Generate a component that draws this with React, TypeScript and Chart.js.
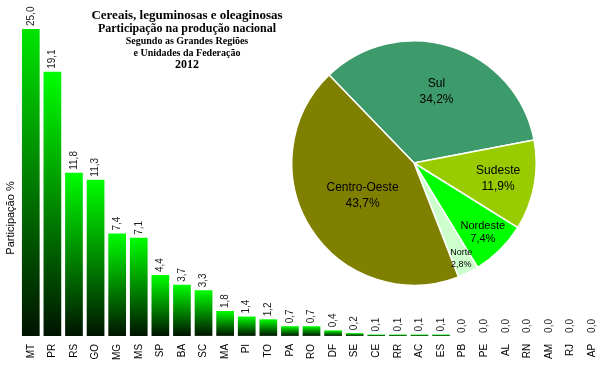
import React, { useEffect, useRef } from "react";
import { Chart, registerables } from "chart.js";

Chart.register(...registerables);

const categories = ["MT", "PR", "RS", "GO", "MG", "MS", "SP", "BA", "SC", "MA", "PI", "TO", "PA", "RO", "DF", "SE", "CE", "RR", "AC", "ES", "PB", "PE", "AL", "RN", "AM", "RJ", "AP"];
const shares = [25.0, 19.1, 11.8, 11.3, 7.4, 7.1, 4.4, 3.7, 3.3, 1.8, 1.4, 1.2, 0.7, 0.7, 0.4, 0.2, 0.1, 0.1, 0.1, 0.1, 0.0, 0.0, 0.0, 0.0, 0.0, 0.0, 0.0];
const regions = ["Sul", "Sudeste", "Nordeste", "Norte", "Centro-Oeste"];
const regionShares = [34.2, 11.9, 7.4, 2.8, 43.7];
const titleLines = [
  "Cereais, leguminosas e oleaginosas",
  "Participação na produção nacional",
  "Segundo as Grandes Regiões",
  "e Unidades da Federação",
  "2012",
];
const yTitle = "Participação %";

const regionColors = ["#3d9a6b", "#99cc00", "#00ff00", "#ccffcc", "#808000"];
const SANS = "'Liberation Sans', Arial, sans-serif";
const SERIF = "'Liberation Serif', 'Times New Roman', serif";

const fmt = (v: number) => v.toFixed(1).replace(".", ",");

export default function App() {
  const barRef = useRef<HTMLCanvasElement>(null);
  const pieRef = useRef<HTMLCanvasElement>(null);

  useEffect(() => {
    const barLabels = {
      id: "barLabels",
      afterDatasetsDraw(chart: any) {
        const ctx = chart.ctx;
        const meta = chart.getDatasetMeta(0);
        const area = chart.chartArea;
        ctx.save();
        ctx.fillStyle = "#222";
        ctx.font = `10px ${SANS}`;
        meta.data.forEach((bar: any, i: number) => {
          const top = Math.max(bar.y, area.top);
          ctx.save();
          ctx.translate(bar.x, top - 3);
          ctx.rotate(-Math.PI / 2);
          ctx.textAlign = "left";
          ctx.textBaseline = "middle";
          ctx.fillText(fmt(shares[i]), 0, 0);
          ctx.restore();
        });
        ctx.restore();
      },
      afterDraw(chart: any) {
        const ctx = chart.ctx;
        ctx.save();
        ctx.fillStyle = "#000";
        ctx.font = `11px ${SANS}`;
        ctx.translate(11, 218);
        ctx.rotate(-Math.PI / 2);
        ctx.textAlign = "center";
        ctx.textBaseline = "middle";
        ctx.fillText(yTitle, 0, 0);
        ctx.restore();
        ctx.save();
        ctx.fillStyle = "#000";
        ctx.textAlign = "center";
        ctx.textBaseline = "alphabetic";
        const specs = [
          { size: 13, y: 19 },
          { size: 12, y: 32 },
          { size: 10, y: 44 },
          { size: 10, y: 56 },
          { size: 12, y: 68 },
        ];
        titleLines.forEach((t, i) => {
          ctx.font = `bold ${specs[i].size}px ${SERIF}`;
          ctx.fillText(t, 187, specs[i].y);
        });
        ctx.restore();
      },
    };

    const bar = new Chart(barRef.current!, {
      type: "bar",
      data: {
        labels: categories,
        datasets: [
          {
            data: shares,
            backgroundColor: (c: any) => {
              const chart = c.chart;
              const ys = chart.scales && chart.scales.y;
              if (c.type !== "data" || !ys) return "#00ff00";
              const top = ys.getPixelForValue(c.raw);
              const base = ys.getPixelForValue(0);
              if (!isFinite(top) || !isFinite(base) || base - top < 1) return "#00ff00";
              const g = chart.ctx.createLinearGradient(0, base, 0, top);
              g.addColorStop(0, "#001400");
              g.addColorStop(1, "#00ff00");
              return g;
            },
            borderWidth: 0,
            barPercentage: 0.82,
            categoryPercentage: 1,
          },
        ],
      },
      options: {
        responsive: false,
        animation: false,
        events: [],
        layout: { padding: { top: 29, left: 20, right: 1, bottom: 13 } },
        plugins: { legend: { display: false }, tooltip: { enabled: false }, title: { display: false } },
        scales: {
          x: {
            grid: { display: false, drawTicks: false },
            border: { display: false },
            afterFit: (scale: any) => {
              scale.paddingLeft = 0;
              scale.paddingRight = 0;
            },
            ticks: {
              minRotation: 90,
              maxRotation: 90,
              padding: 8,
              color: "#000",
              font: { family: SANS, size: 10 },
              autoSkip: false,
            },
          },
          y: {
            display: false,
            min: 0,
            max: 22.2,
          },
        },
      },
      plugins: [barLabels],
    } as any);

    const pieLabels = {
      id: "pieLabels",
      afterDraw(chart: any) {
        const ctx = chart.ctx;
        const meta = chart.getDatasetMeta(0);
        const factors = [0.61, 0.7, 0.8, 0.87, 0.5];
        ctx.save();
        ctx.fillStyle = "#000";
        ctx.textAlign = "center";
        ctx.textBaseline = "middle";
        meta.data.forEach((arc: any, i: number) => {
          const mid = (arc.startAngle + arc.endAngle) / 2;
          const r = arc.outerRadius * factors[i];
          const x = arc.x + Math.cos(mid) * r;
          const y = arc.y + Math.sin(mid) * r;
          const name = regions[i];
          const size = name === "Norte" ? 9 : name === "Nordeste" ? 11 : 12;
          const gap = name === "Norte" ? 6 : name === "Nordeste" ? 6.5 : 8;
          ctx.font = `${size}px ${SANS}`;
          ctx.fillText(name, x, y - gap);
          ctx.fillText(fmt(regionShares[i]) + "%", x, y + gap);
        });
        ctx.restore();
      },
    };

    const pie = new Chart(pieRef.current!, {
      type: "pie",
      data: {
        labels: regions,
        datasets: [
          {
            data: regionShares,
            backgroundColor: regionColors,
            borderColor: "#ffffff",
            borderWidth: 1.5,
          },
        ],
      },
      options: {
        responsive: false,
        animation: false,
        events: [],
        rotation: -44,
        layout: { padding: 0 },
        plugins: { legend: { display: false }, tooltip: { enabled: false } },
      },
      plugins: [pieLabels],
    } as any);

    return () => {
      bar.destroy();
      pie.destroy();
    };
  }, []);

  return (
    <div style={{ position: "fixed", left: 0, top: 0, width: 600, height: 381, background: "#fff", overflow: "hidden" }}>
      <canvas ref={barRef} width={604} height={381} style={{ position: "absolute", left: 0, top: 0 }} />
      <canvas ref={pieRef} width={246} height={246} style={{ position: "absolute", left: 291, top: 40 }} />
    </div>
  );
}
